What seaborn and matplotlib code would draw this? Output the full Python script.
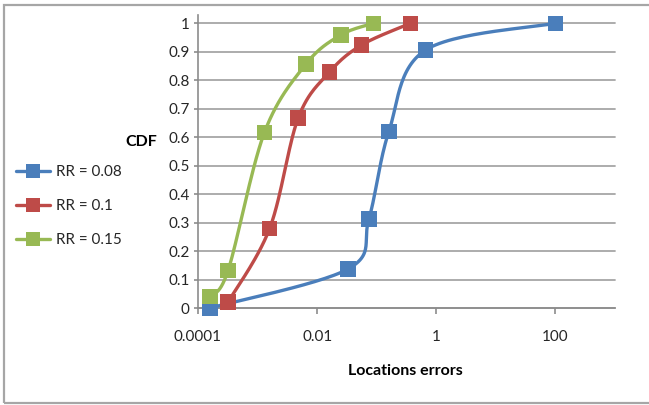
import numpy as np
import pandas as pd
import matplotlib
matplotlib.use("Agg")
import matplotlib.pyplot as plt
from matplotlib.lines import Line2D
from matplotlib.patches import Rectangle
import seaborn as sns

# Series: location error (log scale) vs CDF
series_names = ["RR = 0.08", "RR = 0.1", "RR = 0.15"]
err_rr008 = [1.6e-4, 0.033, 0.074, 0.16, 0.66, 100.0]
cdf_rr008 = [0.0, 0.137, 0.313, 0.62, 0.906, 1.0]
err_rr010 = [3.2e-4, 0.0016, 0.0048, 0.016, 0.056, 0.37]
cdf_rr010 = [0.021, 0.28, 0.667, 0.828, 0.924, 1.0]
err_rr015 = [1.6e-4, 3.2e-4, 0.0013, 0.0065, 0.025, 0.089]
cdf_rr015 = [0.041, 0.132, 0.616, 0.857, 0.959, 1.0]
colors = ["#4A7EBB", "#BE4B48", "#98B954"]

x_ticks = [1e-4, 1e-2, 1, 100]
x_ticklabels = ["0.0001", "0.01", "1", "100"]
y_ticks = [0, 0.1, 0.2, 0.3, 0.4, 0.5, 0.6, 0.7, 0.8, 0.9, 1]
y_ticklabels = ["0", "0.1", "0.2", "0.3", "0.4", "0.5", "0.6", "0.7", "0.8", "0.9", "1"]

sns.set_style("white")
plt.rcParams["font.family"] = ["Lato", "DejaVu Sans"]

W, H, DPI = 649, 405, 100
fig = plt.figure(figsize=(W / DPI, H / DPI), dpi=DPI)

# plot area in pixels
L, R, B, T = 198, 615, 308, 15
Y_TOP = 1 + 8.3 / 285
ax = fig.add_axes([L / W, 1 - B / H, (R - L) / W, (B - T) / H])
ax.set_xscale("log")
ax.set_xlim(1e-4, 1e3)
ax.set_ylim(0, Y_TOP)

# smoothing is done in screen proportions (pixels per decade / per unit)
px_per_dec = (R - L) / 7.0
px_per_unit = (B - T) / Y_TOP


def smooth(xs, ys, n=30):
    u = np.log10(np.asarray(xs)) * px_per_dec
    v = np.asarray(ys) * px_per_unit
    P = np.column_stack([u, v])
    out = [P[0]]
    m = len(P)
    for i in range(m - 1):
        p0 = P[i - 1] if i > 0 else P[i]
        p1, p2 = P[i], P[i + 1]
        p3 = P[i + 2] if i + 2 < m else P[i + 1]
        c1 = p1 + (p2 - p0) / 6.0
        c2 = p2 - (p3 - p1) / 6.0
        t = np.linspace(0, 1, n)[1:, None]
        seg = ((1 - t) ** 3) * p1 + 3 * ((1 - t) ** 2) * t * c1 + 3 * (1 - t) * t ** 2 * c2 + t ** 3 * p2
        out.extend(seg)
    out = np.array(out)
    return 10 ** (out[:, 0] / px_per_dec), out[:, 1] / px_per_unit


raw = [(err_rr008, cdf_rr008), (err_rr010, cdf_rr010), (err_rr015, cdf_rr015)]
curve_frames, point_frames = [], []
for name, (xs, ys) in zip(series_names, raw):
    sx, sy = smooth(xs, ys)
    curve_frames.append(pd.DataFrame({"err": sx, "cdf": sy, "series": name}))
    point_frames.append(pd.DataFrame({"err": xs, "cdf": ys, "series": name}))
curves = pd.concat(curve_frames, ignore_index=True)
points = pd.concat(point_frames, ignore_index=True)

# horizontal gridlines
for yv in y_ticks:
    ax.axhline(yv, color="#A6A6A6", lw=1.3, zorder=0)

palette = dict(zip(series_names, colors))
sns.lineplot(data=curves, x="err", y="cdf", hue="series", estimator=None, sort=False,
             palette=palette, lw=2.4, legend=False, ax=ax, zorder=3)
for line in ax.lines:
    line.set_clip_on(False)
    line.set_solid_capstyle("round")

sns.scatterplot(data=points, x="err", y="cdf", hue="series", palette=palette, marker="s",
                s=125, linewidth=0, legend=False, ax=ax, zorder=4, clip_on=False)

for sp in ["top", "right"]:
    ax.spines[sp].set_visible(False)
for sp in ["left", "bottom"]:
    ax.spines[sp].set_color("#8C8C8C")
    ax.spines[sp].set_linewidth(1.2)

ax.set_xticks(x_ticks)
ax.set_xticklabels(x_ticklabels)
ax.xaxis.set_minor_locator(matplotlib.ticker.NullLocator())
ax.set_yticks(y_ticks)
ax.set_yticklabels(y_ticklabels)
ax.tick_params(axis="x", direction="out", length=4, width=1.2, color="#8C8C8C",
               labelsize=11, labelcolor="#262626", pad=12)
ax.tick_params(axis="y", direction="out", length=3, width=1.2, color="#8C8C8C",
               labelsize=11, labelcolor="#262626", pad=3)
ax.tick_params(bottom=True, left=True)
ax.set_xlabel("")
ax.set_ylabel("")

fig.text(405 / W, 1 - 371 / H, "Locations errors", ha="center", va="center",
         fontsize=11.5, fontweight="bold", color="#000000")
fig.text(141 / W, 1 - 142 / H, "CDF", ha="center", va="center",
         fontsize=11.5, fontweight="bold", color="#000000")

handles = [Line2D([0], [0], color=c, lw=2.4, marker="s", markersize=9.5, markeredgewidth=0)
           for c in colors]
fig.legend(handles, series_names, loc="upper left", bbox_to_anchor=(16 / W, 1 - 165 / H),
           frameon=False, fontsize=11, handlelength=2.2, handletextpad=0.45, labelspacing=1.32,
           borderaxespad=0, borderpad=0, labelcolor="#262626")

# chart-area frame
fig.add_artist(Rectangle((4 / W, 1 - 403 / H), (W + 10) / W, 398 / H, transform=fig.transFigure,
                         fill=False, edgecolor="#A6A6A6", lw=1.6, clip_on=False))

fig.savefig("out.png", dpi=DPI)
